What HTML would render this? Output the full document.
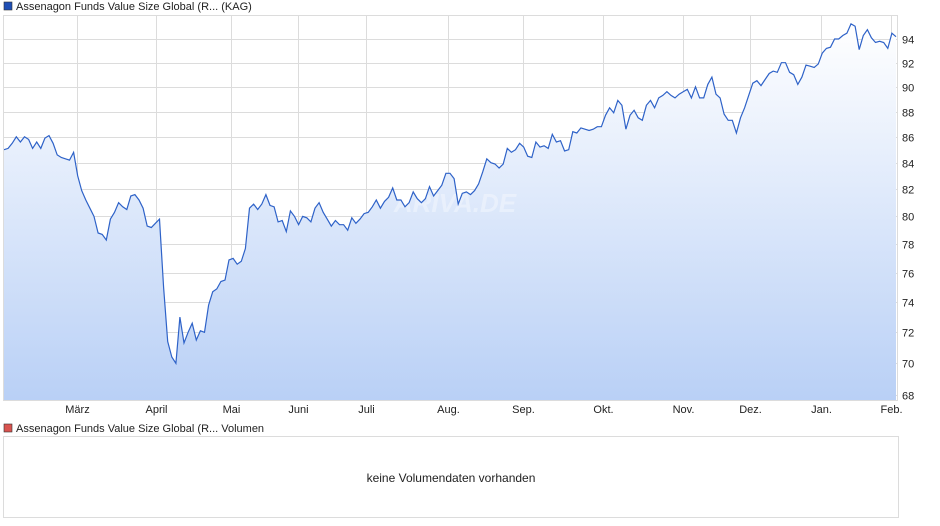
<!DOCTYPE html>
<html><head><meta charset="utf-8">
<style>
html,body{margin:0;padding:0;background:#fff;width:940px;height:526px;overflow:hidden;font-family:"Liberation Sans",sans-serif;}
svg{display:block}
text{font-family:"Liberation Sans",sans-serif;}
</style></head>
<body>
<svg id="chart" width="940" height="526" xmlns="http://www.w3.org/2000/svg">
<defs>
<linearGradient id="fillg" x1="0" y1="0" x2="0" y2="1">
<stop offset="0" stop-color="#ffffff"/>
<stop offset="1" stop-color="#b9d0f6"/>
</linearGradient>
</defs>
<rect x="4" y="2" width="8" height="8" fill="#1f4fb5" stroke="#333" stroke-width="0.6"/>
<text x="16" y="10" font-size="11" fill="#222">Assenagon Funds Value Size Global (R... (KAG)</text>
<g id="grid"></g>
<path id="area" fill="url(#fillg)" stroke="none"/>
<text x="455" y="212" font-size="26" font-style="italic" font-weight="bold" fill="#ffffff" fill-opacity="0.35" text-anchor="middle">ARIVA.DE</text>
<path id="line" fill="none" stroke="#2e62c8" stroke-width="1.2"/>
<g id="axes"></g>
<rect x="4" y="424" width="8" height="8" fill="#d9534f" stroke="#333" stroke-width="0.6"/>
<text x="16" y="432" font-size="11" fill="#222">Assenagon Funds Value Size Global (R... Volumen</text>
<rect x="3.5" y="436.5" width="895" height="81" fill="#fff" stroke="#dcdcdc"/>
<text x="451" y="482" font-size="12" fill="#222" text-anchor="middle">keine Volumendaten vorhanden</text>
</svg>
<script>
const prices = [85.0,85.1,85.5,86.0,85.6,86.0,85.8,85.1,85.6,85.1,85.9,86.1,85.5,84.6,84.4,84.3,84.2,84.8,83.0,81.9,81.2,80.6,80.0,78.8,78.7,78.3,79.8,80.3,81.0,80.7,80.5,81.5,81.6,81.2,80.6,79.3,79.2,79.5,79.8,75.0,71.4,70.4,70.0,73.0,71.3,72.0,72.6,71.5,72.1,72.0,73.8,74.7,74.9,75.4,75.5,76.9,77.0,76.6,76.8,77.7,80.6,80.9,80.5,80.9,81.6,80.8,80.7,79.6,79.7,78.9,80.4,80.0,
79.4,80.0,79.9,79.6,80.6,81.0,80.3,79.8,79.3,79.7,79.4,79.4,79.0,79.9,79.5,79.8,80.2,80.3,80.7,81.2,80.6,81.1,81.4,82.1,81.2,81.2,80.7,81.0,81.8,81.3,81.0,81.3,82.2,81.5,81.9,82.3,83.2,83.2,82.8,80.9,81.7,81.8,81.6,81.9,82.4,83.3,84.3,84.0,83.9,83.6,83.9,85.1,84.8,85.0,85.5,85.2,84.5,84.4,85.6,85.2,85.3,85.1,86.2,85.6,85.7,84.9,85.0,86.4,86.3,86.7,86.6,86.5,
86.6,86.8,86.8,87.7,88.3,87.9,88.9,88.5,86.6,87.7,88.1,87.5,87.3,88.5,88.9,88.3,89.1,89.3,89.6,89.3,89.1,89.4,89.6,89.8,89.1,90.0,89.1,89.1,90.2,90.8,89.4,89.1,87.8,87.3,87.3,86.3,87.5,88.3,89.3,90.3,90.5,90.1,90.6,91.1,91.3,91.2,92.0,92.0,91.2,91.0,90.2,90.8,91.8,91.7,91.6,91.9,92.8,93.2,93.3,94.0,94.0,94.3,94.5,95.3,95.1,93.1,94.3,94.8,94.1,93.7,93.8,93.7,93.2,94.5,94.2];
const yTicks = [94,92,90,88,86,84,82,80,78,76,74,72,70,68];
const months = ["März","April","Mai","Juni","Juli","Aug.","Sep.","Okt.","Nov.","Dez.","Jan.","Feb."];
const monthPos = [0.0815,0.170,0.255,0.330,0.406,0.498,0.582,0.671,0.761,0.836,0.916,0.994];

const NS="http://www.w3.org/2000/svg";
const L=4,R=896,T=15,B=400;
function yScale(v){return 39+1100*Math.log(94/v);}
function xIdx(i){return L+i*(R-L)/(prices.length-1);}
function xFrac(f){return L+f*(R-L);}
function mk(tag,attrs,parent){const e=document.createElementNS(NS,tag);for(const k in attrs)e.setAttribute(k,attrs[k]);parent.appendChild(e);return e;}
const grid=document.getElementById('grid'),axes=document.getElementById('axes');
yTicks.forEach(v=>{const y=Math.round(yScale(v))+0.5;
 const l=mk('line',{x1:3,x2:897,y1:y,y2:y,stroke:'#dcdcdc','stroke-width':1},grid);
 
 
 const t=mk('text',{x:902,y:y+4,'font-size':11,fill:'#222'},axes);
 t.textContent=v;
 
 
});
months.forEach((m,i)=>{const x=Math.round(xFrac(monthPos[i]))+0.5;
 const l=mk('line',{x1:x,x2:x,y1:T,y2:B,stroke:'#dcdcdc','stroke-width':1},grid);
 
 
 const t=mk('text',{x:x,y:413,'font-size':11,fill:'#222','text-anchor':'middle'},axes);
 t.textContent=m;
 
 
});
const fr=mk('rect',{x:3.5,y:T+0.5,width:894,height:B-T,fill:'none',stroke:'#dcdcdc'},axes);


let d='';prices.forEach((v,i)=>{d+=(i?'L':'M')+xIdx(i).toFixed(1)+','+yScale(v).toFixed(1);});
document.getElementById('line').setAttribute('d',d);
document.getElementById('area').setAttribute('d',d+'L'+xIdx(prices.length-1).toFixed(1)+','+B+'L'+L+','+B+'Z');
</script>
</body></html>
